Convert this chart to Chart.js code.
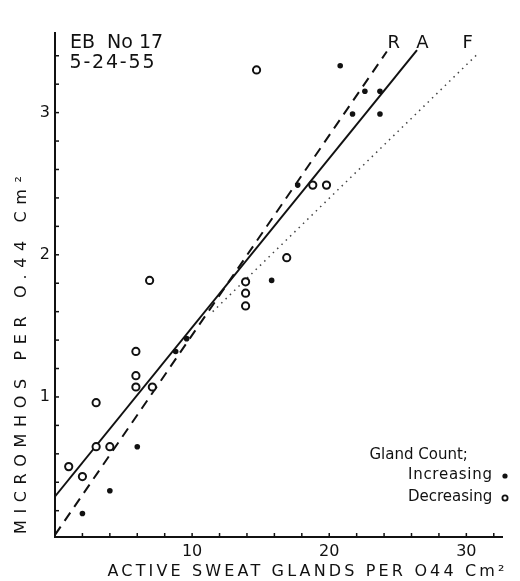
<!DOCTYPE html>
<html>
<head>
<meta charset="utf-8">
<script src="https://cdn.jsdelivr.net/npm/chart.js@4.4.0/dist/chart.umd.min.js"></script>
<style>
  html, body { margin: 0; padding: 0; background: #fff; }
  canvas { display: block; }
</style>
</head>
<body>
<canvas id="chart" width="520" height="581"></canvas>
<script>
// gland count decreasing (open circles)
const decX = [14.7, 18.8, 19.8, 16.9, 6.9, 13.9, 13.9, 13.9, 5.9, 5.9, 5.9, 7.1, 3.0, 3.0, 4.0, 1.0, 2.0];
const decY = [3.30, 2.49, 2.49, 1.98, 1.82, 1.81, 1.73, 1.64, 1.32, 1.15, 1.07, 1.07, 0.96, 0.65, 0.65, 0.51, 0.44];

// gland count increasing (filled dots)
const incX = [20.8, 22.6, 23.7, 21.7, 23.7, 17.7, 15.8, 9.6, 8.8, 6.0, 4.0, 2.0];
const incY = [3.33, 3.15, 3.15, 2.99, 2.99, 2.49, 1.82, 1.41, 1.32, 0.65, 0.34, 0.18];

// fitted lines R (dashed), A (solid), F (dotted): end points
const rX = [0, 24.2];
const rY = [0.03, 3.43];
const aX = [0, 26.4];
const aY = [0.30, 3.44];
const fX = [11.5, 30.9];
const fY = [1.60, 3.42];

// line labels, placed in data units
const lineLabels = ['R', 'A', 'F'];
const lineLabelX = [24.7, 26.8, 30.1];
const lineLabelY = [3.49, 3.49, 3.49];

// axis ticks
const xTicks = [2, 4, 6, 8, 10, 12, 14, 16, 18, 20, 22, 24, 26, 28, 30, 32];
const xTickLabels = [10, 20, 30];
const yTicks = [0.2, 0.4, 0.6, 0.8, 1, 1.2, 1.4, 1.6, 1.8, 2, 2.2, 2.4, 2.6, 2.8, 3, 3.2, 3.4];
const yTickLabels = [1, 2, 3];

const INK = '#111';
const FONT = "'DejaVu Sans', sans-serif";

const pts = (xs, ys) => xs.map((x, i) => ({ x: x, y: ys[i] }));

// write text spread out so that it spans a given width (lettering-guide look)
function spread(ctx, text, cx, cy, width, angle) {
  ctx.save();
  ctx.translate(cx, cy);
  if (angle) ctx.rotate(angle);
  ctx.letterSpacing = '0px';
  const w0 = ctx.measureText(text).width;
  const sp = Math.max(0, (width - w0) / (text.length - 1));
  ctx.letterSpacing = sp + 'px';
  ctx.textAlign = 'left';
  ctx.textBaseline = 'middle';
  ctx.fillText(text, -width / 2, 0);
  ctx.restore();
}

const inkPlugin = {
  id: 'ink',
  afterDraw(chart) {
    const ctx = chart.ctx;
    const xs = chart.scales.x;
    const ys = chart.scales.y;
    const area = chart.chartArea;
    ctx.save();
    ctx.strokeStyle = INK;
    ctx.fillStyle = INK;
    ctx.lineWidth = 1.5;

    // tick marks point into the plot
    xs.ticks.forEach(t => {
      const px = xs.getPixelForValue(t.value);
      ctx.beginPath();
      ctx.moveTo(px, area.bottom);
      ctx.lineTo(px, area.bottom - 4);
      ctx.stroke();
    });
    ys.ticks.forEach(t => {
      const py = ys.getPixelForValue(t.value);
      ctx.beginPath();
      ctx.moveTo(area.left, py);
      ctx.lineTo(area.left + 4, py);
      ctx.stroke();
    });

    // axis titles
    ctx.font = '16px ' + FONT;
    spread(ctx, 'ACTIVE SWEAT GLANDS PER O44 Cm²', 306, 572, 397, 0);
    spread(ctx, 'MICROMHOS PER O.44 Cm²', 22, 355, 358, -Math.PI / 2);

    // subject / date
    ctx.font = '19px ' + FONT;
    spread(ctx, 'EB  No 17', 114, 43, 88, 0);
    spread(ctx, '5-24-55', 112, 63, 85, 0);

    // line labels
    ctx.font = '18px ' + FONT;
    ctx.textAlign = 'center';
    ctx.textBaseline = 'middle';
    lineLabels.forEach((s, i) => {
      ctx.fillText(s, xs.getPixelForValue(lineLabelX[i]), ys.getPixelForValue(lineLabelY[i]));
    });

    // legend
    ctx.font = '15px ' + FONT;
    spread(ctx, 'Gland Count;', 418, 455, 97, 0);
    spread(ctx, 'Increasing', 450, 475, 84, 0);
    spread(ctx, 'Decreasing', 450, 497, 84, 0);
    ctx.beginPath();
    ctx.arc(505, 476, 2.6, 0, Math.PI * 2);
    ctx.fill();
    ctx.beginPath();
    ctx.lineWidth = 1.8;
    ctx.arc(505, 498, 2.6, 0, Math.PI * 2);
    ctx.stroke();
    ctx.restore();
  }
};

new Chart(document.getElementById('chart'), {
  type: 'scatter',
  data: {
    datasets: [
      {
        label: 'Decreasing',
        data: pts(decX, decY),
        pointStyle: 'circle',
        pointRadius: 3.6,
        pointBorderWidth: 2,
        pointBackgroundColor: '#fff',
        pointBorderColor: INK,
        order: 1
      },
      {
        label: 'Increasing',
        data: pts(incX, incY),
        pointStyle: 'circle',
        pointRadius: 2.8,
        pointBorderWidth: 0,
        pointBackgroundColor: INK,
        pointBorderColor: INK,
        order: 0
      },
      {
        label: 'R',
        data: pts(rX, rY),
        showLine: true,
        borderColor: INK,
        borderWidth: 2,
        borderDash: [10, 7],
        pointRadius: 0,
        order: 2
      },
      {
        label: 'A',
        data: pts(aX, aY),
        showLine: true,
        borderColor: INK,
        borderWidth: 2,
        pointRadius: 0,
        order: 2
      },
      {
        label: 'F',
        data: pts(fX, fY),
        showLine: true,
        borderColor: '#444',
        borderWidth: 1.5,
        borderDash: [1.5, 4.5],
        pointRadius: 0,
        order: 2
      }
    ]
  },
  options: {
    responsive: false,
    animation: false,
    layout: { padding: { top: 33, right: 18, left: 0, bottom: 0 } },
    plugins: {
      legend: { display: false },
      tooltip: { enabled: false }
    },
    scales: {
      x: {
        type: 'linear',
        min: 0,
        max: 32.6,
        afterBuildTicks: s => { s.ticks = xTicks.map(v => ({ value: v })); },
        afterFit: s => { s.height = 44; },
        grid: { display: false, drawTicks: false },
        border: { display: true, color: INK, width: 2 },
        ticks: {
          color: INK,
          font: { family: FONT, size: 16 },
          padding: 5,
          maxRotation: 0,
          autoSkip: false,
          callback: v => xTickLabels.includes(v) ? String(v) : ''
        }
      },
      y: {
        type: 'linear',
        min: 0.015,
        max: 3.56,
        afterBuildTicks: s => { s.ticks = yTicks.map(v => ({ value: v })); },
        afterFit: s => { s.width = 55; },
        grid: { display: false, drawTicks: false },
        border: { display: true, color: INK, width: 2 },
        ticks: {
          color: INK,
          font: { family: FONT, size: 16 },
          padding: 5,
          autoSkip: false,
          callback: v => yTickLabels.includes(Math.round(v * 10) / 10) ? String(Math.round(v)) : ''
        }
      }
    }
  },
  plugins: [inkPlugin]
});
</script>
</body>
</html>
